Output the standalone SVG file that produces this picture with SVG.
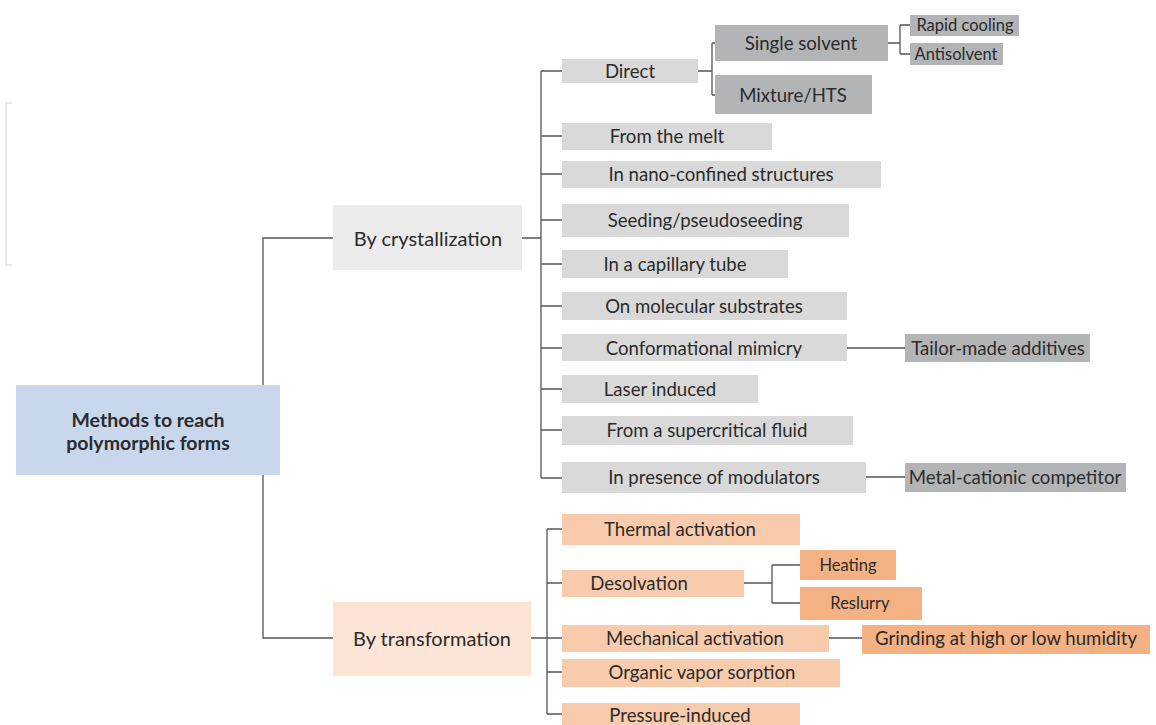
<svg xmlns="http://www.w3.org/2000/svg" width="1156" height="725" viewBox="0 0 1156 725">
<style>
text{font-family:Lato,"Open Sans","Liberation Sans",sans-serif;fill:#2b2b2b;text-anchor:middle;dominant-baseline:central}
.c{font-size:18.6px}
.s{font-size:16.5px}
.m{font-size:20px}
.r{font-size:19.5px;font-weight:bold}
.ln{stroke:#555;stroke-width:1.3;fill:none}
.g1{fill:#d9d9d9}
.g2{fill:#b3b4b6}
.o1{fill:#f8cbad}
.o2{fill:#f4b183}
</style>
<path d="M12 103H6V265H12" fill="none" stroke="#e6e6e6" stroke-width="2"/>
<g id="connectors" class="ln">
<path d="M333 238H263V385M263 475V638H333"/>
<path d="M522 238H541M541 71V478M541 71H562M541 136H562M541 174H562M541 220H562M541 264H562M541 306H562M541 348H562M541 389H562M541 430H562M541 478H562"/>
<path d="M698 71H712M712 43V95M712 43H715M712 95H715"/>
<path d="M888 43H900M900 25V54M900 25H910M900 54H910"/>
<path d="M847 348H905M866 477H905"/>
<path d="M530 638H547M547 529V714M547 529H562M547 583H562M547 638H562M547 672H562M547 714H562"/>
<path d="M744 583H772M772 565V603M772 565H800M772 603H800"/>
<path d="M829 638H862"/>
</g>
<g id="root"><rect x="16" y="385" width="264" height="90" fill="#c9d7ec"/><text class="r" x="148" y="419">Methods to reach</text><text class="r" x="148" y="442">polymorphic forms</text></g>
<g id="cryst"><rect x="333" y="205" width="189" height="65" fill="#ebebeb"/><text class="m" x="428" y="238">By crystallization</text></g>
<g id="trans"><rect x="333" y="602" width="198" height="74" fill="#fce4d6"/><text class="m" x="432" y="638">By transformation</text></g>
<g id="direct"><rect class="g1" x="562" y="59" width="136" height="24"/><text class="c" x="630" y="71">Direct</text></g>
<g id="single"><rect class="g2" x="715" y="25" width="173" height="36"/><text class="c" x="801" y="43">Single solvent</text></g>
<g id="mixture"><rect class="g2" x="715" y="75" width="157" height="39"/><text class="c" x="793" y="95">Mixture/HTS</text></g>
<g id="rapid"><rect class="g2" x="910" y="15" width="109" height="21"/><text class="s" x="965" y="25">Rapid cooling</text></g>
<g id="anti"><rect class="g2" x="910" y="43" width="93" height="22"/><text class="s" x="956" y="54">Antisolvent</text></g>
<g id="melt"><rect class="g1" x="562" y="123" width="210" height="27"/><text class="c" x="667" y="136">From the melt</text></g>
<g id="nano"><rect class="g1" x="562" y="161" width="319" height="27"/><text class="c" x="721" y="174">In nano-confined structures</text></g>
<g id="seed"><rect class="g1" x="562" y="204" width="287" height="33"/><text class="c" x="705" y="220">Seeding/pseudoseeding</text></g>
<g id="capillary"><rect class="g1" x="562" y="250" width="226" height="28"/><text class="c" x="675" y="264">In a capillary tube</text></g>
<g id="substrates"><rect class="g1" x="562" y="292" width="285" height="28"/><text class="c" x="704" y="306">On molecular substrates</text></g>
<g id="mimicry"><rect class="g1" x="562" y="334" width="285" height="27"/><text class="c" x="704" y="348">Conformational mimicry</text></g>
<g id="tailor"><rect class="g2" x="905" y="334" width="185" height="28"/><text class="c" x="998" y="348">Tailor-made additives</text></g>
<g id="laser"><rect class="g1" x="562" y="375" width="196" height="28"/><text class="c" x="660" y="389">Laser induced</text></g>
<g id="supercritical"><rect class="g1" x="562" y="416" width="291" height="29"/><text class="c" x="707" y="430">From a supercritical fluid</text></g>
<g id="modulators"><rect class="g1" x="562" y="462" width="304" height="31"/><text class="c" x="714" y="477">In presence of modulators</text></g>
<g id="metal"><rect class="g2" x="905" y="463" width="221" height="29"/><text class="c" x="1015" y="477">Metal-cationic competitor</text></g>
<g id="thermal"><rect class="o1" x="562" y="514" width="238" height="31"/><text class="c" x="680" y="529">Thermal activation</text></g>
<g id="desolv"><rect class="o1" x="562" y="570" width="182" height="27"/><text class="c" x="639" y="583">Desolvation</text></g>
<g id="heating"><rect class="o2" x="800" y="550" width="96" height="30"/><text class="s" x="848" y="565">Heating</text></g>
<g id="reslurry"><rect class="o2" x="800" y="587" width="122" height="33"/><text class="s" x="860" y="603">Reslurry</text></g>
<g id="mech"><rect class="o1" x="562" y="625" width="267" height="27"/><text class="c" x="695" y="638">Mechanical activation</text></g>
<g id="grind"><rect class="o2" x="862" y="625" width="288" height="29"/><text class="c" x="1006" y="638">Grinding at high or low humidity</text></g>
<g id="vapor"><rect class="o1" x="562" y="659" width="278" height="28"/><text class="c" x="702" y="672">Organic vapor sorption</text></g>
<g id="pressure"><rect class="o1" x="562" y="703" width="238" height="22"/><text class="c" x="680" y="715">Pressure-induced</text></g>
</svg>
